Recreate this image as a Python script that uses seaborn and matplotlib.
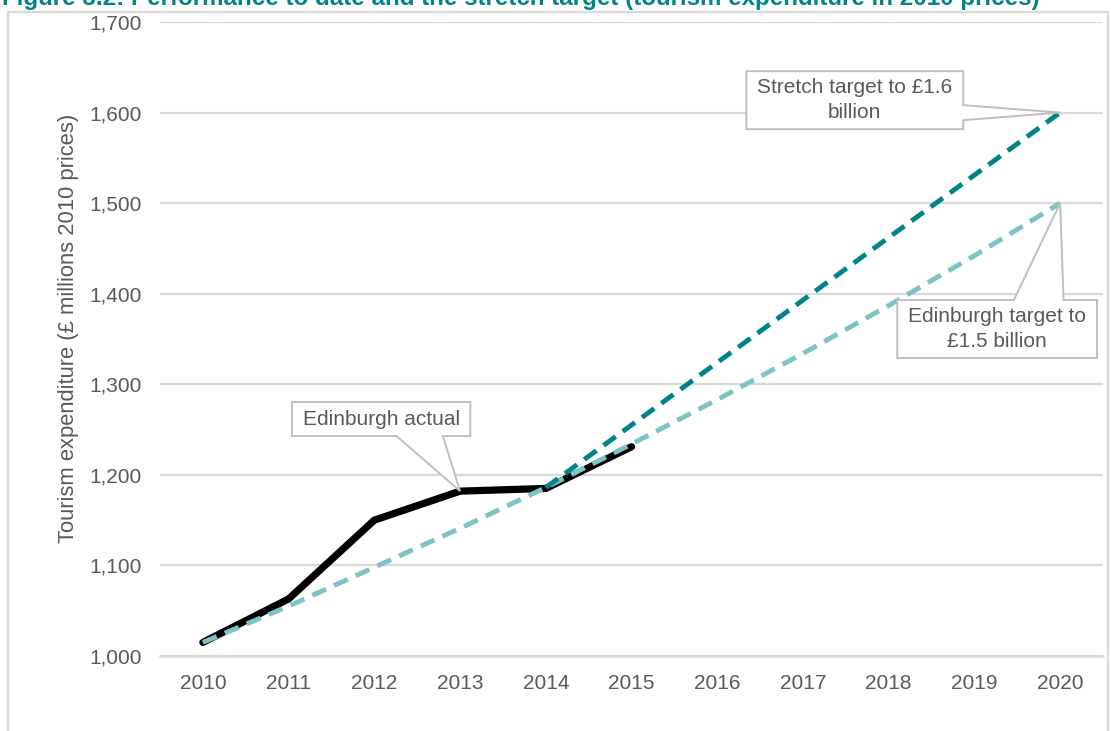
import matplotlib
matplotlib.use("Agg")
import matplotlib.pyplot as plt
from matplotlib.patches import Polygon, Rectangle
import pandas as pd
import seaborn as sns

# Tourism expenditure, £ millions in 2010 prices
years_actual = [2010, 2011, 2012, 2013, 2014, 2015]
actual = [1015, 1063, 1150, 1182, 1185, 1231]

years_target = [2010, 2011, 2012, 2013, 2014, 2015, 2016, 2017, 2018, 2019, 2020]
edinburgh_target = [1015, 1055, 1098, 1141, 1186, 1234, 1283, 1334, 1387, 1442, 1500]

years_stretch = [2014, 2015, 2016, 2017, 2018, 2019, 2020]
stretch_target = [1186, 1255, 1324, 1393, 1462, 1531, 1600]

year_ticks = [2010, 2011, 2012, 2013, 2014, 2015, 2016, 2017, 2018, 2019, 2020]
value_ticks = [1000, 1100, 1200, 1300, 1400, 1500, 1600, 1700]

TEAL = "#00848A"
LIGHT_TEAL = "#7DC3C6"
GREY_TEXT = "#595959"
GRID = "#d9d9d9"
BOX_EDGE = "#bfbfbf"

sns.set_theme(style="white")
plt.rcParams["font.family"] = ["Liberation Sans", "DejaVu Sans"]

fig = plt.figure(figsize=(11.11, 7.31), dpi=100)
ax = fig.add_axes([160 / 1111, 1 - 656 / 731, (1103 - 160) / 1111, (656 - 22) / 731])

df_actual = pd.DataFrame({"year": years_actual, "value": actual})
df_target = pd.DataFrame({"year": years_target, "value": edinburgh_target})
df_stretch = pd.DataFrame({"year": years_stretch, "value": stretch_target})

sns.lineplot(data=df_actual, x="year", y="value", ax=ax, color="black",
             linewidth=5.2, solid_capstyle="round", solid_joinstyle="miter", zorder=3)
sns.lineplot(data=df_target, x="year", y="value", ax=ax, color=LIGHT_TEAL,
             linewidth=3.5, zorder=4)
sns.lineplot(data=df_stretch, x="year", y="value", ax=ax, color=TEAL,
             linewidth=3.5, zorder=5)
for ln in ax.lines[1:]:
    ln.set_dashes((3.1, 1.8))
    ln.set_dash_capstyle("butt")

ax.set_xlim(2009.5, 2020.5)
ax.set_ylim(1000, 1700)
ax.set_xticks(year_ticks)
ax.set_xticklabels([str(y) for y in year_ticks])
ax.set_yticks(value_ticks)
ax.set_yticklabels([f"{v:,}" for v in value_ticks])
ax.tick_params(axis="both", length=0, labelsize=15, labelcolor=GREY_TEXT)
ax.tick_params(axis="x", pad=13)
ax.tick_params(axis="y", pad=13)
ax.set_xlabel("")
ax.set_ylabel("Tourism expenditure (£ millions 2010 prices)", fontsize=15.8,
              color=GREY_TEXT)
ax.yaxis.set_label_coords(-0.0859, 0.517)

ax.yaxis.grid(True, color=GRID, linewidth=1.6)
ax.xaxis.grid(False)
ax.set_axisbelow(True)
for side in ("top", "right", "left"):
    ax.spines[side].set_visible(False)
ax.spines["bottom"].set_color(GRID)
ax.spines["bottom"].set_linewidth(1.8)


def callout(ax, box, pointer, tip, text, side):
    """Draw a rectangular callout whose pointer leaves one edge of the box."""
    x0, x1, y0, y1 = box
    p0, p1 = pointer
    if side == "bottom":
        verts = [(x0, y1), (x1, y1), (x1, y0), (p1, y0), tip, (p0, y0), (x0, y0)]
    elif side == "right":
        verts = [(x0, y1), (x1, y1), (x1, p1), tip, (x1, p0), (x1, y0), (x0, y0)]
    else:  # top
        verts = [(x0, y1), (p0, y1), tip, (p1, y1), (x1, y1), (x1, y0), (x0, y0)]
    ax.add_patch(Polygon(verts, closed=True, facecolor="white", edgecolor=BOX_EDGE,
                         linewidth=1.4, zorder=6, clip_on=False, joinstyle="miter"))
    ax.text((x0 + x1) / 2, (y0 + y1) / 2, text, ha="center", va="center",
            fontsize=15, color=GREY_TEXT, zorder=7, linespacing=1.4)


callout(ax, (2011.04, 2013.12, 1242.8, 1280.4), (2012.26, 2012.80), (2013, 1182),
        "Edinburgh actual", "bottom")
callout(ax, (2016.34, 2018.87, 1581.7, 1645.7), (1591.6, 1608.2), (2020, 1600),
        "Stretch target to £1.6\nbillion", "right")
callout(ax, (2018.10, 2020.43, 1329.0, 1393.0), (2019.46, 2020.04), (2020, 1500),
        "Edinburgh target to\n£1.5 billion", "top")

# Outer frame of the figure panel
fig.patches.append(Rectangle((8 / 1111, -0.05), (1108 - 8) / 1111, 1.05 - 12 / 731,
                             transform=fig.transFigure, fill=False,
                             edgecolor=GRID, linewidth=1.6, zorder=0))

fig.text(2 / 1111, 1 - 5 / 731,
         "Figure 3.2: Performance to date and the stretch target (tourism expenditure in 2010 prices)",
         ha="left", va="baseline", fontsize=17.4, fontweight="bold", color=TEAL)

fig.savefig("out.png", dpi=100)
